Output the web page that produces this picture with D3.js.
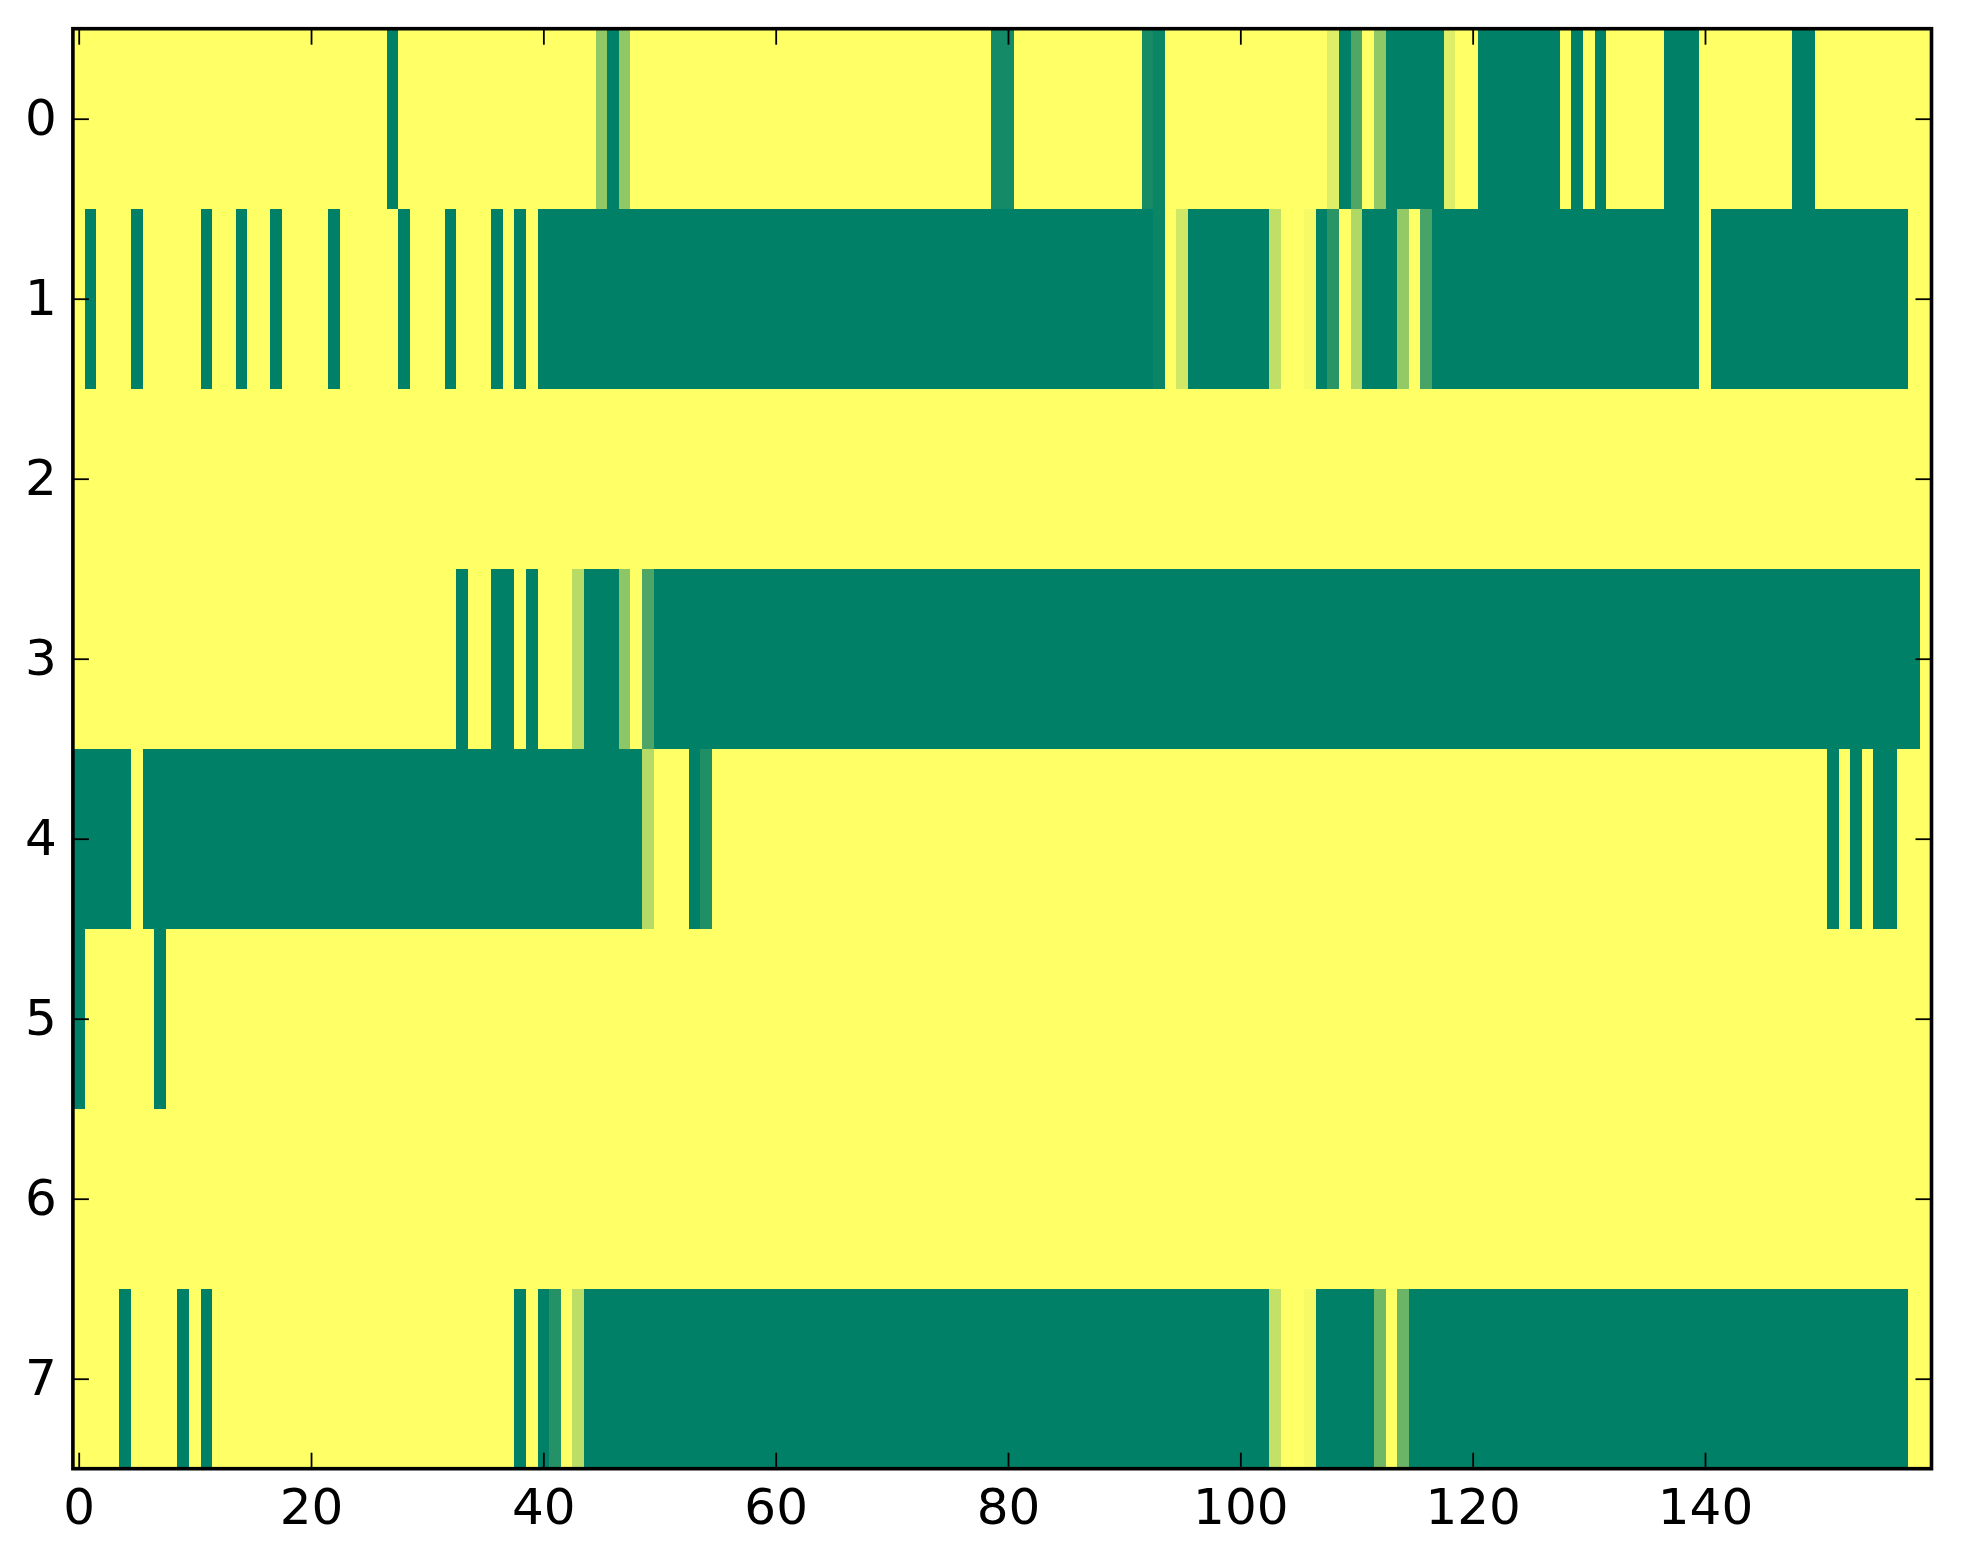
<!DOCTYPE html>
<html>
<head>
<meta charset="utf-8">
<script src="https://cdn.jsdelivr.net/npm/d3@7"></script>
<style>
  html, body { margin: 0; padding: 0; background: #ffffff; }
  svg { display: block; }
</style>
</head>
<body>
<script>
// ---- data: one array per image row (0 = dark green, 1 = yellow) ----
const row0 = [
  1,1,1,1,1,1,1,1,1,1, 1,1,1,1,1,1,1,1,1,1, 1,1,1,1,1,1,1,0,1,1, 1,1,1,1,1,1,1,1,1,1,
  1,1,1,1,1,0.57,0,0.57,1,1, 1,1,1,1,1,1,1,1,1,1, 1,1,1,1,1,1,1,1,1,1, 1,1,1,1,1,1,1,1,1,0.08,
  0.08,1,1,1,1,1,1,1,1,1, 1,1,0.09,0.04,1,1,1,1,1,1, 1,1,1,1,1,1,1,1,0.87,0, 0.31,1,0.57,0,0,0,0,0,0.87,1,
  1,0,0,0,0,0,0,0,1,0, 1,0,1,1,1,1,1,0,0,0, 1,1,1,1,1,1,1,1,0,0, 1,1,1,1,1,1,1,1,1,1
];
const row1 = [
  1,0,1,1,1,0,1,1,1,1, 1,0,1,1,0,1,1,0,1,1, 1,1,0,1,1,1,1,1,0,1, 1,1,0,1,1,1,0,1,0,1,
  0,0,0,0,0,0,0,0,0,0, 0,0,0,0,0,0,0,0,0,0, 0,0,0,0,0,0,0,0,0,0, 0,0,0,0,0,0,0,0,0,0,
  0,0,0,0,0,0,0,0,0,0, 0,0,0,0.04,1,0.82,0,0,0,0, 0,0,0,0.75,1,1,0.96,0,0.16,1, 0.69,0,0,0,0.58,1,0.28,0,0,0,
  0,0,0,0,0,0,0,0,0,0, 0,0,0,0,0,0,0,0,0,0, 1,0,0,0,0,0,0,0,0,0, 0,0,0,0,0,0,0,0,1,1
];
const row2 = [
  1,1,1,1,1,1,1,1,1,1, 1,1,1,1,1,1,1,1,1,1, 1,1,1,1,1,1,1,1,1,1, 1,1,1,1,1,1,1,1,1,1,
  1,1,1,1,1,1,1,1,1,1, 1,1,1,1,1,1,1,1,1,1, 1,1,1,1,1,1,1,1,1,1, 1,1,1,1,1,1,1,1,1,1,
  1,1,1,1,1,1,1,1,1,1, 1,1,1,1,1,1,1,1,1,1, 1,1,1,1,1,1,1,1,1,1, 1,1,1,1,1,1,1,1,1,1,
  1,1,1,1,1,1,1,1,1,1, 1,1,1,1,1,1,1,1,1,1, 1,1,1,1,1,1,1,1,1,1, 1,1,1,1,1,1,1,1,1,1
];
const row3 = [
  1,1,1,1,1,1,1,1,1,1, 1,1,1,1,1,1,1,1,1,1, 1,1,1,1,1,1,1,1,1,1, 1,1,1,0,1,1,0,0,1,0,
  1,1,1,0.72,0,0,0,0.55,1,0.30, 0,0,0,0,0,0,0,0,0,0, 0,0,0,0,0,0,0,0,0,0, 0,0,0,0,0,0,0,0,0,0,
  0,0,0,0,0,0,0,0,0,0, 0,0,0,0,0,0,0,0,0,0, 0,0,0,0,0,0,0,0,0,0, 0,0,0,0,0,0,0,0,0,0,
  0,0,0,0,0,0,0,0,0,0, 0,0,0,0,0,0,0,0,0,0, 0,0,0,0,0,0,0,0,0,0, 0,0,0,0,0,0,0,0,0,1
];
const row4 = [
  0,0,0,0,0,1,0,0,0,0, 0,0,0,0,0,0,0,0,0,0, 0,0,0,0,0,0,0,0,0,0, 0,0,0,0,0,0,0,0,0,0,
  0,0,0,0,0,0,0,0,0,0.71, 1,1,1,0,0.12,1,1,1,1,1, 1,1,1,1,1,1,1,1,1,1, 1,1,1,1,1,1,1,1,1,1,
  1,1,1,1,1,1,1,1,1,1, 1,1,1,1,1,1,1,1,1,1, 1,1,1,1,1,1,1,1,1,1, 1,1,1,1,1,1,1,1,1,1,
  1,1,1,1,1,1,1,1,1,1, 1,1,1,1,1,1,1,1,1,1, 1,1,1,1,1,1,1,1,1,1, 1,0,1,0,1,0,0,1,1,1
];
const row5 = [
  0,1,1,1,1,1,1,0,1,1, 1,1,1,1,1,1,1,1,1,1, 1,1,1,1,1,1,1,1,1,1, 1,1,1,1,1,1,1,1,1,1,
  1,1,1,1,1,1,1,1,1,1, 1,1,1,1,1,1,1,1,1,1, 1,1,1,1,1,1,1,1,1,1, 1,1,1,1,1,1,1,1,1,1,
  1,1,1,1,1,1,1,1,1,1, 1,1,1,1,1,1,1,1,1,1, 1,1,1,1,1,1,1,1,1,1, 1,1,1,1,1,1,1,1,1,1,
  1,1,1,1,1,1,1,1,1,1, 1,1,1,1,1,1,1,1,1,1, 1,1,1,1,1,1,1,1,1,1, 1,1,1,1,1,1,1,1,1,1
];
const row6 = [
  1,1,1,1,1,1,1,1,1,1, 1,1,1,1,1,1,1,1,1,1, 1,1,1,1,1,1,1,1,1,1, 1,1,1,1,1,1,1,1,1,1,
  1,1,1,1,1,1,1,1,1,1, 1,1,1,1,1,1,1,1,1,1, 1,1,1,1,1,1,1,1,1,1, 1,1,1,1,1,1,1,1,1,1,
  1,1,1,1,1,1,1,1,1,1, 1,1,1,1,1,1,1,1,1,1, 1,1,1,1,1,1,1,1,1,1, 1,1,1,1,1,1,1,1,1,1,
  1,1,1,1,1,1,1,1,1,1, 1,1,1,1,1,1,1,1,1,1, 1,1,1,1,1,1,1,1,1,1, 1,1,1,1,1,1,1,1,1,1
];
const row7 = [
  1,1,1,1,0,1,1,1,1,0, 1,0,1,1,1,1,1,1,1,1, 1,1,1,1,1,1,1,1,1,1, 1,1,1,1,1,1,1,1,0,1,
  0,0.14,1,0.74,0,0,0,0,0,0, 0,0,0,0,0,0,0,0,0,0, 0,0,0,0,0,0,0,0,0,0, 0,0,0,0,0,0,0,0,0,0,
  0,0,0,0,0,0,0,0,0,0, 0,0,0,0,0,0,0,0,0,0, 0,0,0,0.76,1,1,0.96,0,0,0, 0,0,0.44,1,0.42,0,0,0,0,0,
  0,0,0,0,0,0,0,0,0,0, 0,0,0,0,0,0,0,0,0,0, 0,0,0,0,0,0,0,0,0,0, 0,0,0,0,0,0,0,0,1,1
];
const rows = [row0, row1, row2, row3, row4, row5, row6, row7];
const xTicks = [0, 20, 40, 60, 80, 100, 120, 140];
const yTicks = [0, 1, 2, 3, 4, 5, 6, 7];

// ---- layout ----
const W = 1963, H = 1564;
const L = 72.9, R = 1931.5, T = 28.7, B = 1468.7;
const nCols = row0.length;
const nRows = rows.length;

const svg = d3.select("body").append("svg")
  .attr("width", W).attr("height", H)
  .style("background", "#ffffff");

const x = d3.scaleLinear().domain([-0.5, nCols - 0.5]).range([L, R]);
const y = d3.scaleLinear().domain([-0.5, nRows - 0.5]).range([T, B]);
// matplotlib "summer" colormap: linear RGB from (0,0.5,0.4) to (1,1,0.4)
const color = d3.scaleLinear().domain([0, 1]).range(["#008066", "#ffff66"]).interpolate(d3.interpolateRgb);

const cells = [];
rows.forEach((r, ri) => r.forEach((v, ci) => cells.push({ r: ri, c: ci, v })));

svg.append("g")
  .selectAll("rect")
  .data(cells)
  .join("rect")
  .attr("x", d => x(d.c - 0.5))
  .attr("y", d => y(d.r - 0.5))
  .attr("width", d => x(d.c + 0.5) - x(d.c - 0.5) + 0.4)
  .attr("height", d => y(d.r + 0.5) - y(d.r - 0.5) + 0.4)
  .attr("fill", d => color(d.v))
  .attr("shape-rendering", "crispEdges");

const font = "'DejaVu Sans', sans-serif";
const tickLen = 16;

function styleAxis(g, showLabels) {
  g.select(".domain").remove();
  g.selectAll(".tick line").attr("stroke", "#000").attr("stroke-width", 1.8);
  g.selectAll(".tick text")
    .attr("fill", "#000")
    .style("font-family", font)
    .style("font-size", "50px");
  if (!showLabels) g.selectAll(".tick text").remove();
}

svg.append("g").attr("transform", `translate(0,${B})`)
  .call(d3.axisBottom(x).tickValues(xTicks).tickSizeInner(-tickLen).tickSizeOuter(0).tickPadding(20).tickFormat(d3.format("d")))
  .call(g => styleAxis(g, true));
svg.append("g").attr("transform", `translate(0,${T})`)
  .call(d3.axisTop(x).tickValues(xTicks).tickSizeInner(-tickLen).tickSizeOuter(0))
  .call(g => styleAxis(g, false));
svg.append("g").attr("transform", `translate(${L},0)`)
  .call(d3.axisLeft(y).tickValues(yTicks).tickSizeInner(-tickLen).tickSizeOuter(0).tickPadding(16).tickFormat(d3.format("d")))
  .call(g => styleAxis(g, true));
svg.append("g").attr("transform", `translate(${R},0)`)
  .call(d3.axisRight(y).tickValues(yTicks).tickSizeInner(-tickLen).tickSizeOuter(0))
  .call(g => styleAxis(g, false));

// frame (spines)
svg.append("rect")
  .attr("x", L).attr("y", T)
  .attr("width", R - L).attr("height", B - T)
  .attr("fill", "none").attr("stroke", "#000").attr("stroke-width", 3.6);
</script>
</body>
</html>
